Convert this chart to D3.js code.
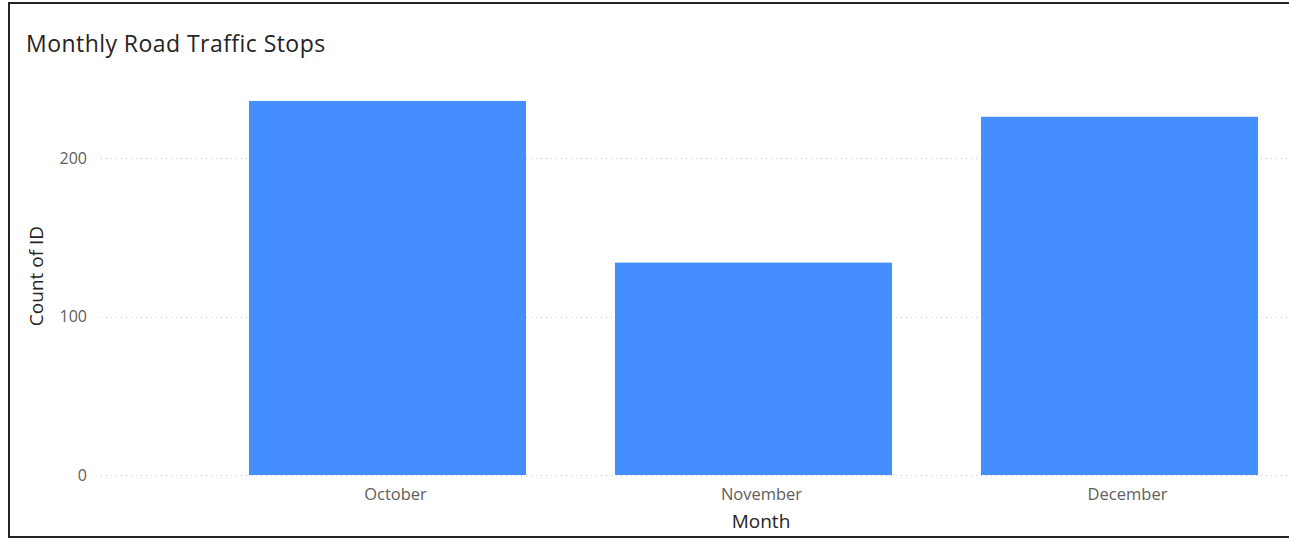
<!DOCTYPE html>
<html>
<head>
<meta charset="utf-8">
<script src="https://cdn.jsdelivr.net/npm/d3@7"></script>
<style>
  body { margin: 0; background: #fff; }
  svg { display: block; }
</style>
</head>
<body>
<div id="chart"></div>
<script>
// data
const months = ["October", "November", "December"];
const counts = [236, 134, 226];
const yTicks = [0, 100, 200];

const W = 1289, H = 538;
const titleFont = "'Open Sans', Roboto, sans-serif";
const tickFont = "'Open Sans', 'Noto Sans', sans-serif";

const svg = d3.select("#chart")
  .append("svg")
  .attr("width", W)
  .attr("height", H);

// card frame (left, top, bottom visible; right is cut off)
svg.append("path")
  .attr("d", `M${W + 5},3 H9 V537 H${W + 5}`)
  .attr("fill", "none")
  .attr("stroke", "#252423")
  .attr("stroke-width", 2);

svg.append("text")
  .attr("x", 26)
  .attr("y", 52)
  .style("font-family", titleFont)
  .style("font-size", "23px")
  .style("letter-spacing", "0.45px")
  .style("fill", "#252423")
  .text("Monthly Road Traffic Stops");

// scales
const x = d3.scaleBand()
  .domain(months)
  .range([204.5, 1302.5])
  .paddingInner(0.243)
  .paddingOuter(0.1215);

const y = d3.scaleLinear()
  .domain([0, 200])
  .range([475, 158]);

// gridlines
svg.append("g")
  .selectAll("line")
  .data(yTicks)
  .join("line")
  .attr("x1", 101)
  .attr("x2", W)
  .attr("y1", d => Math.round(y(d)) + 0.5)
  .attr("y2", d => Math.round(y(d)) + 0.5)
  .attr("stroke", "#c8c6c4")
  .attr("stroke-width", 1)
  .attr("stroke-dasharray", "1,4");

// bars
svg.append("g")
  .selectAll("rect")
  .data(months)
  .join("rect")
  .attr("x", d => x(d))
  .attr("width", x.bandwidth())
  .attr("y", (d, i) => y(counts[i]))
  .attr("height", (d, i) => y(0) - y(counts[i]))
  .attr("fill", "#448eff");

// y axis
const yAxis = svg.append("g")
  .attr("transform", "translate(87,0)")
  .call(d3.axisLeft(y).tickValues(yTicks).tickSize(0).tickPadding(0));
yAxis.select(".domain").remove();
yAxis.selectAll("text")
  .style("font-family", tickFont)
  .style("font-size", "16px")
  .style("fill", "#605e5c");

// x axis (labels sit a little right of the bar centres in the original)
const xAxis = svg.append("g")
  .attr("transform", "translate(8,475)")
  .call(d3.axisBottom(x).tickSize(0).tickPadding(13));
xAxis.select(".domain").remove();
xAxis.selectAll("text")
  .style("font-family", tickFont)
  .style("font-size", "16.5px")
  .style("fill", "#605e5c");

// axis titles
svg.append("text")
  .attr("transform", "translate(43,276) rotate(-90)")
  .attr("text-anchor", "middle")
  .style("font-family", titleFont)
  .style("font-size", "19px")
  .style("fill", "#252423")
  .text("Count of ID");

svg.append("text")
  .attr("x", 761)
  .attr("y", 528)
  .attr("text-anchor", "middle")
  .style("font-family", titleFont)
  .style("font-size", "19px")
  .style("fill", "#252423")
  .text("Month");
</script>
</body>
</html>
